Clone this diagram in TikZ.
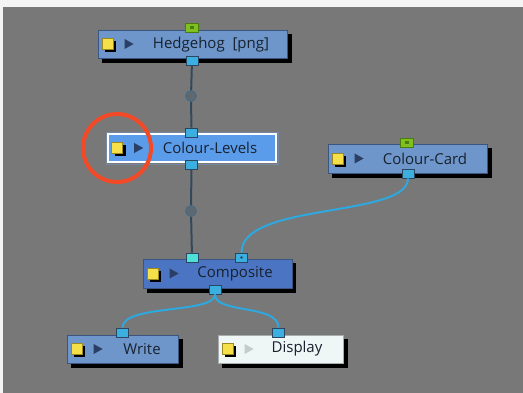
\documentclass[tikz,border=0pt]{standalone}
\usepackage{fontspec}
\setmainfont{Open Sans}
\usetikzlibrary{calc}
\definecolor{pagebg}{HTML}{F4F4F4}
\definecolor{canvas}{HTML}{787878}
\definecolor{nodeblue}{HTML}{6E96CA}
\definecolor{compblue}{HTML}{4B74C2}
\definecolor{selblue}{HTML}{5A9CEA}
\definecolor{dispfill}{HTML}{EEF6F6}
\definecolor{boxedge}{HTML}{3A5580}
\definecolor{portfill}{HTML}{3BB0E0}
\definecolor{portcyan}{HTML}{4FE0DA}
\definecolor{portedge}{HTML}{2A4660}
\definecolor{greenport}{HTML}{7EC01E}
\definecolor{greenedge}{HTML}{4A7A10}
\definecolor{wire}{HTML}{2EA8DE}
\definecolor{darkwire}{HTML}{34485C}
\definecolor{ringred}{HTML}{F24A26}
\definecolor{txt}{HTML}{18222F}
\definecolor{iconyellow}{HTML}{F5E04A}
\definecolor{iconedge}{HTML}{9A8A20}
\definecolor{tri}{HTML}{2A3F66}
\definecolor{trilight}{HTML}{C5CBCB}
\definecolor{knot}{HTML}{5E6870}
\definecolor{knotedge}{HTML}{3D6D8D}
\tikzset{
  module/.style={draw=boxedge, line width=0.8pt, fill=nodeblue, inner sep=0pt},
  shadowbox/.style={fill=black},
  label/.style={text=txt, font=\fontsize{15}{17}\selectfont, inner sep=0pt},
  portsq/.style={draw=portedge, line width=0.8pt, fill=portfill, minimum width=12pt, minimum height=9pt, inner sep=0pt},
  gport/.style={draw=greenedge, line width=0.8pt, fill=greenport, minimum width=13pt, minimum height=9pt, inner sep=0pt},
  dwire/.style={draw=darkwire, line width=2pt},
  cwire/.style={draw=wire, line width=2pt},
  knotdot/.style={circle, fill=knot, draw=knotedge, line width=0.7pt, minimum size=11pt, inner sep=0pt},
  icon/.style={draw=iconedge, line width=0.8pt, fill=iconyellow, minimum size=11pt, inner sep=0pt},
  iconsh/.style={fill=black, minimum size=11pt, inner sep=0pt},
}
\newcommand{\moduleicons}[2]{% #1 = node name, #2 = triangle colour
  \node[iconsh] at ($(#1.west)+(13,3)$) {};
  \node[icon] (#1-icon) at ($(#1.west)+(10,0)$) {};
  \fill[#2] ($(#1.west)+(27,-5)$) -- ($(#1.west)+(36,0)$) -- ($(#1.west)+(27,5)$) -- cycle;
}
\begin{document}
\begin{tikzpicture}[x=1pt, y=-1pt]
\useasboundingbox (0,0) rectangle (523,393);
\fill[pagebg] (0,0) rectangle (523,393);
\fill[canvas] (3,7) rectangle (523,393);

% shadows
\fill[shadowbox] (102,34) rectangle (292,63);
\fill[shadowbox] (332,148) rectangle (492,178);
\fill[shadowbox] (147,263) rectangle (296,293);
\fill[shadowbox] (71,339) rectangle (183,368);
\fill[shadowbox] (222,339) rectangle (348,368);

\coordinate (k1) at (191,96);
\coordinate (k2) at (191,211);

% modules
\node[module, minimum width=189pt, minimum height=28pt] (hedge) at (192.5,44) {};
\node[module, fill=selblue, draw=white, line width=1.6pt, minimum width=168pt, minimum height=28pt] (levels) at (192,148) {};
\draw[boxedge!70, line width=0.6pt] ($(levels.south west)+(-1.2,1.2)$) rectangle ($(levels.north east)+(1.2,-1.2)$);
\node[module, minimum width=159pt, minimum height=29pt] (card) at (407.5,158.5) {};
\node[module, fill=compblue, minimum width=149pt, minimum height=29pt] (comp) at (217.5,273.5) {};
\node[module, minimum width=111pt, minimum height=28pt] (write) at (122.5,349) {};
\node[module, fill=dispfill, draw=dispfill!70!black, minimum width=125pt, minimum height=28pt] (disp) at (280.5,349) {};

% labels
\node[label] at (211,44.5) {Hedgehog\ \ [png]};
\node[label] at (210,148) {Colour-Levels};
\node[label] at (425,158.5) {Colour-Card};
\node[label] at (235,273.5) {Composite};
\node[label] at (142,349) {Write};
\node[label] at (297,349) {Display};

% icons
\moduleicons{hedge}{tri}
\moduleicons{levels}{tri}
\moduleicons{card}{tri}
\moduleicons{comp}{tri}
\moduleicons{write}{tri}
\moduleicons{disp}{trilight}

% ports
\node[gport] (hedge-in) at (191.5,28) {};
\fill[greenedge] (189.5,26.5) rectangle (193.5,29.5);
\node[portsq] (hedge-out) at (192,60.5) {};
\node[portsq] (levels-in) at (191.5,132.5) {};
\node[portsq] (levels-out) at (191.5,164.5) {};
\node[gport] (card-in) at (407,143) {};
\fill[greenedge] (405,141.5) rectangle (409,144.5);
\node[portsq] (card-out) at (408,173.5) {};
\node[portsq, fill=portcyan] (comp-in1) at (192,257.5) {};
\node[portsq] (comp-in2) at (241.5,257.5) {};
\fill[portedge] (241.5,257.5) circle (1.3pt);
\node[portsq] (comp-out) at (215,289.5) {};
\node[portsq] (write-in) at (122.5,332.5) {};
\node[portsq] (disp-in) at (278.5,332.5) {};

% connectors
\path[dwire] (hedge-out) -- (k1) -- (levels-in);
\path[dwire] (levels-out) -- (k2) -- (comp-in1);
\node[knotdot] (knot1) at (k1) {};
\node[knotdot] (knot2) at (k2) {};
\path[cwire] (card-out.south) .. controls (408,218) and (241,202) .. (comp-in2.north);
\path[cwire] (comp-out.south) .. controls (215,314) and (122.5,304) .. (write-in.north);
\path[cwire] (comp-out.south) .. controls (215,314) and (278.5,304) .. (disp-in.north);

% highlight ring
\node[circle, draw=ringred, line width=4pt, minimum size=68pt, inner sep=0pt] (ring) at (117,148) {};
\end{tikzpicture}
\end{document}
